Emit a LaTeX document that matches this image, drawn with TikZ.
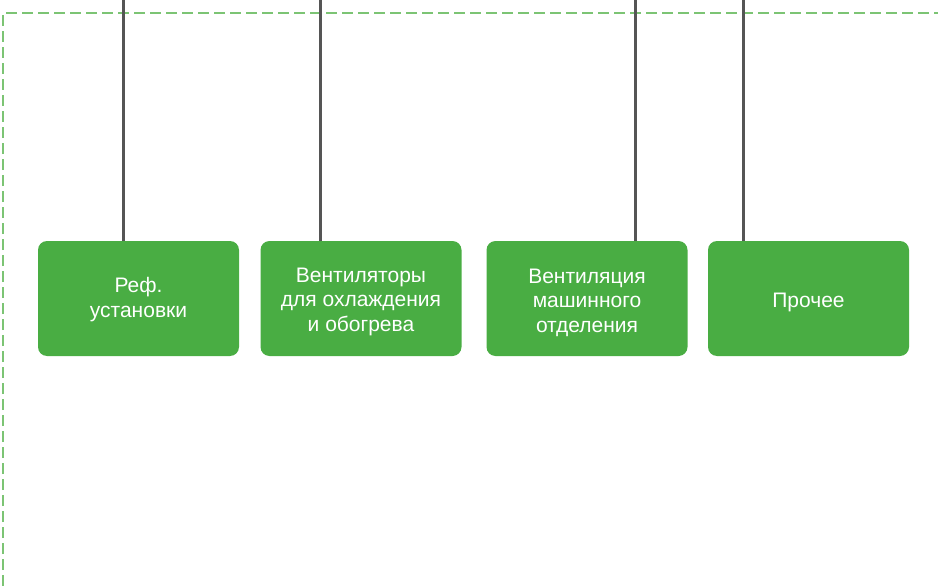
\documentclass[tikz,border=0pt]{standalone}
\usepackage{fontspec}
\setmainfont{Liberation Sans}
\definecolor{boxgreen}{HTML}{49AD43}
\definecolor{dashgreen}{HTML}{7CC474}
\definecolor{linegray}{HTML}{555555}
\tikzset{
  catbox/.style={fill=boxgreen, draw=none, rounded corners=9pt, minimum width=201pt, minimum height=115pt, inner sep=0pt},
  cattext/.style={text=white, align=center, inner sep=0pt, font=\fontsize{21}{24.5}\selectfont},
  stem/.style={draw=linegray, line width=3pt},
  frame/.style={draw=dashgreen, line width=1.3pt, dash pattern=on 11pt off 5pt}
}
\begin{document}
\begin{tikzpicture}[x=1pt,y=-1pt]
\useasboundingbox (0,0) rectangle (938,586);
\coordinate (fa) at (3,586);
\coordinate (fb) at (3,13);
\coordinate (fc) at (938,13);
\draw[frame] (fa) -- (fb) -- (fc);
\node[catbox] (b1) at (138.5,298.5) {};
\node[catbox] (b2) at (361,298.5) {};
\node[catbox] (b3) at (587,298.5) {};
\node[catbox] (b4) at (808.5,298.5) {};
\node[cattext] (l1) at ([yshift=-1pt]b1.center) {Реф.\\установки};
\node[cattext] (l2) at ([yshift=-3pt]b2.center) {Вентиляторы\\для охлаждения\\и обогрева};
\node[cattext] (l3) at ([yshift=-4pt]b3.center) {Вентиляция\\машинного\\отделения};
\node[cattext] (l4) at ([yshift=-4pt]b4.center) {Прочее};
\coordinate (t1) at (123,0);
\coordinate (t2) at (320,0);
\coordinate (t3) at (635,0);
\coordinate (t4) at (743,0);
\draw[stem] (t1) -- (t1 |- b1.north);
\draw[stem] (t2) -- (t2 |- b2.north);
\draw[stem] (t3) -- (t3 |- b3.north);
\draw[stem] (t4) -- (t4 |- b4.north);
\end{tikzpicture}
\end{document}
